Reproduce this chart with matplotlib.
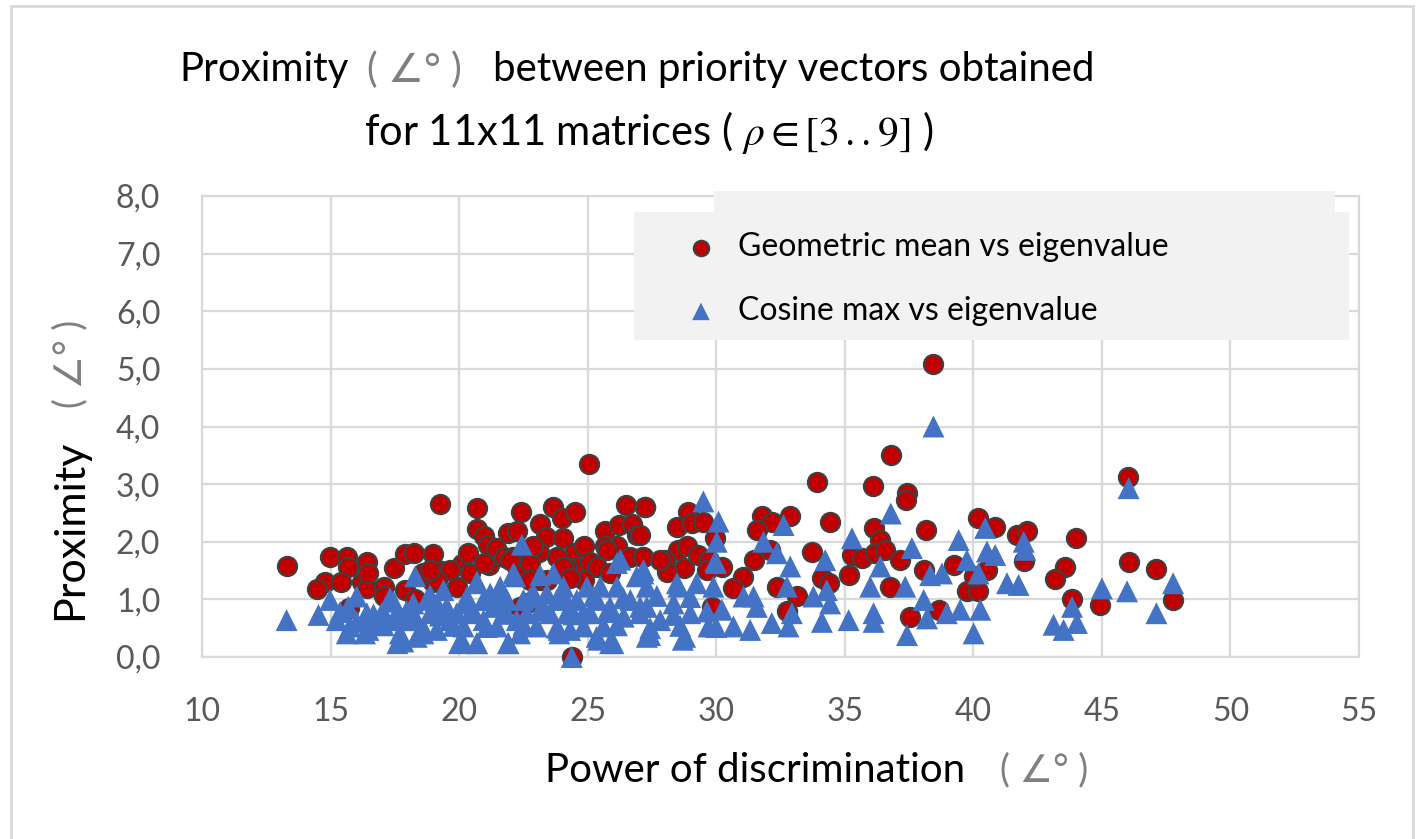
import numpy as np
import matplotlib.pyplot as plt
from matplotlib.patches import Rectangle

plt.rcParams['font.family'] = ['Lato', 'DejaVu Sans']
plt.rcParams['mathtext.fontset'] = 'stix'

# Geometric mean vs eigenvalue
geo_x = [13.3, 14.98, 15.63, 15.69, 14.79, 14.46, 15.40, 16.41, 16.21, 16.41, 16.47, 17.06, 17.45,
         17.90, 18.25, 17.90, 18.98, 19.26, 19.29, 19.0, 20.10, 20.36, 20.69, 20.69, 20.95, 21.18,
         21.14, 21.44, 21.89, 22.24, 22.40, 23.13, 23.39, 23.09, 23.67, 24.0, 24.03, 24.51, 24.45,
         24.84, 24.64, 25.07, 25.10, 25.68, 26.20, 26.50, 26.72, 26.91, 26.14, 25.68, 27.24, 24.38,
         18.61, 19.65, 19.91, 20.43, 20.95, 21.73, 22.11, 22.24, 22.76, 22.89, 23.8, 24.19, 25.36,
         25.87, 26.66, 27.17, 19.13, 17.06, 23.15, 24.84, 22.63, 22.37, 15.7, 18.3,
         38.45, 36.79, 33.91, 36.08, 37.42, 37.39, 34.43, 38.17, 40.20, 40.85, 41.70, 42.09, 41.96,
         44.0, 46.0, 46.04, 43.58, 43.19, 43.84, 44.94, 27.23, 28.92, 28.49, 29.05, 29.50, 31.77,
         32.16, 31.58, 32.88, 27.04, 28.53, 28.86, 29.31, 29.96, 27.17, 28.01, 28.73, 28.08, 29.70,
         30.22, 31.06, 30.67, 29.83, 31.45, 32.10, 32.36, 33.14, 32.75, 33.72, 34.11, 34.37, 35.15,
         35.28, 35.67, 36.12, 36.38, 36.18, 36.57, 37.16, 36.77, 37.55, 38.07, 38.65, 39.23, 39.75,
         40.20, 40.01, 40.53, 47.1, 47.77,
         29.64, 18.87, 21.98, 24.06, 24.32, 25.75, 27.82, 22.76, 23.41]
geo_y = [1.58, 1.74, 1.74, 1.57, 1.31, 1.18, 1.31, 1.64, 1.31, 1.19, 1.45, 1.21, 1.55,
         1.79, 1.81, 1.16, 1.78, 2.65, 1.50, 1.31, 1.61, 1.80, 2.58, 2.22, 2.10, 1.60,
         1.94, 1.89, 2.15, 2.19, 2.52, 2.30, 2.09, 1.83, 2.61, 2.42, 2.07, 2.51, 1.80,
         1.93, 1.56, 3.35, 1.64, 2.18, 2.29, 2.64, 2.31, 2.12, 1.93, 1.92, 2.61, 0.0,
         1.45, 1.51, 1.22, 1.45, 1.63, 1.74, 1.74, 1.57, 1.63, 1.92, 1.74, 1.57, 1.57,
         1.45, 1.74, 1.74, 1.34, 1.05, 1.34, 1.34, 0.93, 0.87, 0.85, 1.0,
         5.08, 3.51, 3.03, 2.97, 2.84, 2.73, 2.35, 2.20, 2.41, 2.26, 2.12, 2.18, 1.66,
         2.06, 3.12, 1.64, 1.57, 1.35, 1.00, 0.90, 2.61, 2.52, 2.26, 2.32, 2.35, 2.44,
         2.35, 2.21, 2.44, 2.12, 1.86, 1.92, 1.77, 2.06, 1.74, 1.68, 1.54, 1.48, 1.68,
         1.57, 1.39, 1.19, 0.87, 1.68, 1.86, 1.22, 1.05, 0.79, 1.82, 1.37, 1.28, 1.42,
         1.77, 1.71, 2.23, 2.03, 1.80, 1.86, 1.68, 1.22, 0.70, 1.51, 0.82, 1.60, 1.14,
         1.14, 1.40, 1.51, 1.53, 0.99,
         1.51, 1.51, 1.68, 1.57, 1.37, 1.86, 1.68, 1.34, 1.34]

# Cosine max vs eigenvalue
cos_x = [13.29, 14.53, 14.98, 15.69, 15.63, 16.41, 16.47, 16.99, 17.45, 17.70, 17.83, 18.22, 18.29,
         17.77, 18.87, 19.39, 19.13, 19.91, 20.10, 20.69, 20.69, 21.21, 21.60, 21.92, 22.11, 22.44,
         22.5, 23.15, 23.28, 23.67, 23.87, 24.38, 24.84, 25.49, 25.42, 25.87, 26.27, 26.91,
         15.24, 16.02, 16.34, 16.8, 17.2, 17.57, 17.96, 18.35, 18.61, 18.74, 19.13, 19.52, 19.65,
         20.17, 20.3, 20.43, 20.95, 20.95, 21.34, 21.47, 21.73, 21.86, 22.24, 22.37, 22.63, 22.89,
         23.02, 23.41, 23.54, 23.8, 24.06, 24.19, 24.32, 24.58, 24.97, 25.1, 25.36, 25.62, 25.87,
         26.14, 26.4, 26.66, 27.04, 27.3,
         38.45, 36.79, 46.04, 29.50, 30.09, 30.02, 29.96, 32.62, 31.84, 32.36, 35.28, 34.24, 37.61,
         39.43, 40.46, 40.53, 40.85, 41.96, 42.02, 41.31, 41.76, 45.0, 45.98, 43.12, 43.51, 44.03,
         43.84, 40.01, 37.42, 38.20, 38.07, 38.78, 38.97, 39.49, 40.27, 40.20, 39.75, 38.32, 37.35,
         36.38, 35.99, 36.12, 36.12, 35.15, 34.11, 34.30, 33.78, 34.43, 32.88, 32.75, 32.94, 32.81,
         32.16, 31.45, 31.58, 31.32, 30.67, 31.06, 30.22, 29.70, 29.89, 29.24, 28.79, 28.99, 28.53,
         27.82, 27.43, 27.30, 27.17, 28.34, 47.77, 47.12,
         15.37, 16.67, 17.96, 19.26, 20.56, 21.85, 23.15, 24.45, 25.75, 27.04, 28.34, 29.64,
         16.02, 17.31, 18.87, 20.30, 21.47, 22.76, 24.06, 25.23, 26.39, 27.69, 28.99,
         15.76, 17.06, 18.61, 19.78, 21.08, 22.5, 23.80, 24.84, 26.14, 27.43, 28.6, 30.0,
         20.69, 22.18, 26.14, 27.17, 28.47, 30.0,
         17.6, 18.35, 20.0, 20.7, 21.9, 23.9, 25.35, 26.0, 27.3, 28.7]
cos_y = [0.64, 0.73, 0.99, 0.87, 0.41, 0.76, 0.47, 0.76, 0.96, 0.41, 0.27, 0.93, 1.40,
         0.64, 0.76, 1.16, 0.47, 0.76, 0.30, 1.31, 0.24, 1.10, 1.22, 0.24, 1.45, 1.95,
         0.99, 1.42, 0.87, 1.45, 0.47, 0.0, 0.76, 1.22, 0.30, 0.24, 1.69, 1.40,
         0.64, 0.61, 0.41, 0.61, 0.64, 0.76, 0.76, 0.64, 0.41, 0.99, 0.93, 0.87, 0.64,
         0.53, 0.93, 0.76, 0.99, 0.64, 0.87, 0.53, 0.76, 0.99, 0.64, 0.41, 0.76, 1.10,
         0.53, 1.10, 0.76, 0.99, 1.22, 0.76, 0.47, 0.99, 1.22, 0.76, 0.99, 0.53, 0.87,
         1.22, 0.70, 0.99, 0.87, 1.22,
         4.00, 2.49, 2.93, 2.70, 2.35, 2.00, 1.66, 2.29, 2.00, 1.80, 2.06, 1.68, 1.89,
         2.03, 2.24, 1.83, 1.77, 2.00, 1.86, 1.28, 1.25, 1.19, 1.14, 0.56, 0.47, 0.59,
         0.87, 0.41, 0.38, 0.67, 0.99, 1.45, 0.76, 0.82, 0.82, 1.45, 1.68, 1.42, 1.22,
         1.57, 1.22, 0.76, 0.61, 0.64, 0.61, 1.16, 1.05, 0.93, 1.57, 1.22, 0.76, 0.53,
         0.59, 1.05, 0.87, 0.47, 0.53, 1.05, 0.82, 0.53, 1.22, 1.28, 0.35, 0.76, 1.22,
         0.64, 0.38, 0.87, 1.45, 0.93, 1.28, 0.76,
         0.78, 0.74, 0.80, 0.72, 0.79, 0.75, 0.81, 0.74, 0.78, 0.76, 0.73, 0.79,
         1.05, 1.02, 1.07, 1.04, 1.06, 1.03, 1.08, 1.05, 1.02, 1.06, 1.04,
         0.53, 0.55, 0.50, 0.54, 0.52, 0.56, 0.51, 0.53, 0.55, 0.50, 0.54, 0.52,
         1.28, 1.40, 1.63, 1.51, 1.28, 1.63,
         0.24, 0.35, 0.24, 0.24, 0.24, 0.41, 0.35, 0.24, 0.35, 0.30]

x_ticks = [10, 15, 20, 25, 30, 35, 40, 45, 50, 55]
y_ticks = [0, 1, 2, 3, 4, 5, 6, 7, 8]

W, H = 1420, 839
fig = plt.figure(figsize=(W / 100, H / 100), dpi=100)
ax = fig.add_axes([202 / W, 1 - 657 / H, (1359 - 202) / W, (657 - 196) / H])

grid_c = '#D9D9D9'
ax.set_xlim(10, 55)
ax.set_ylim(0, 8)
ax.set_xticks(x_ticks)
ax.set_yticks(y_ticks)
ax.set_yticklabels([f'{v:.1f}'.replace('.', ',') for v in y_ticks])
ax.grid(True, color=grid_c, linewidth=1.6)
ax.set_axisbelow(True)
for s in ax.spines.values():
    s.set_color(grid_c)
    s.set_linewidth(1.6)
ax.tick_params(length=0, labelsize=23, labelcolor='#595959')
ax.tick_params(axis='y', pad=30)
ax.tick_params(axis='x', pad=29)

red = ax.scatter(geo_x, geo_y, s=190, marker='o', facecolor='#C00000', edgecolor='#404040',
                 linewidth=1.6, zorder=3, clip_on=False, label='Geometric mean vs eigenvalue')
blue = ax.scatter(cos_x, cos_y, s=250, marker='^', facecolor='#4472C4', edgecolor='none',
                  zorder=4, clip_on=False, label='Cosine max vs eigenvalue')

# legend background (box plus the odd strip on top)
ax.add_patch(Rectangle((634 / W, 1 - 340 / H), (1349 - 634) / W, (340 - 212) / H,
                       transform=fig.transFigure, facecolor='#F2F2F2', edgecolor='none',
                       zorder=5, clip_on=False))
ax.add_patch(Rectangle((714 / W, 1 - 213 / H), (1335 - 714) / W, (213 - 191) / H,
                       transform=fig.transFigure, facecolor='#F2F2F2', edgecolor='none',
                       zorder=5, clip_on=False))
leg = ax.legend(handles=[red, blue], loc='center left', frameon=False, fontsize=23,
                bbox_to_anchor=(669 / W, 1 - 279 / H), bbox_transform=fig.transFigure,
                handlelength=1.0, handletextpad=0.65, labelspacing=1.05, borderpad=0,
                markerscale=0.8)
leg.set_zorder(6)

# outer border
fig.patches.append(Rectangle((11 / W, -0.05), (1413 - 11) / W, 1.05 - 6 / H,
                             transform=fig.transFigure, facecolor='none', edgecolor=grid_c, linewidth=2))

gray = '#808080'
# title
fig.text(179 / W, 1 - 70 / H, 'Proximity', fontsize=29, va='center', ha='left')
fig.text(367 / W, 1 - 70 / H, '( ∠° )', fontsize=29, va='center', ha='left', color=gray)
fig.text(493 / W, 1 - 70 / H, 'between priority vectors obtained', fontsize=29, va='center', ha='left')
fig.text(649 / W, 1 - 133 / H, r'for 11x11 matrices ( $\rho \in [3\,..9]$ )', fontsize=30,
         va='center', ha='center')

# axis labels
fig.text(545 / W, 1 - 770 / H, 'Power of discrimination', fontsize=29, va='center', ha='left')
fig.text(1000 / W, 1 - 770 / H, '( ∠° )', fontsize=27, va='center', ha='left', color=gray)
fig.text(70 / W, 1 - 530 / H, 'Proximity', fontsize=31, va='center', ha='center', rotation=90)
fig.text(70 / W, 1 - 364 / H, '( ∠° )', fontsize=27, va='center', ha='center', rotation=90, color=gray)

plt.savefig('out.png', dpi=100)
